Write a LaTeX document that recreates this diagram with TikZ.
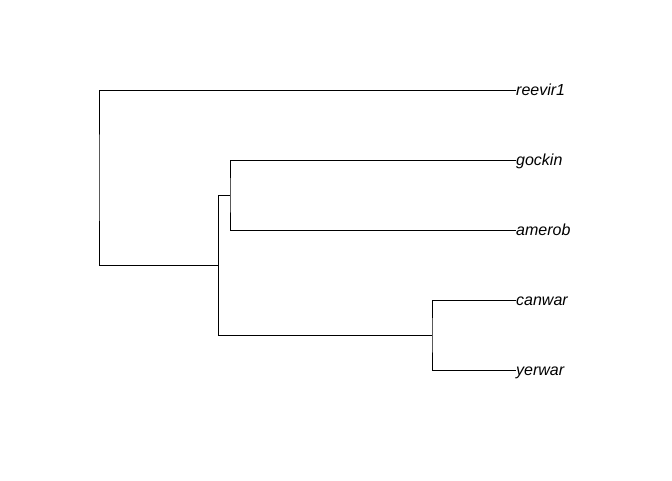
\documentclass[tikz,border=0pt]{standalone}
\usepackage{fontspec}
\setmainfont{Liberation Sans}
\begin{document}
\begin{tikzpicture}[x=1pt,y=-1pt,
  branch/.style={draw=black,line width=0.9pt},
  leaf/.style={anchor=west,inner sep=0pt,font=\fontsize{16}{18}\selectfont\itshape,text height=11.5pt,text depth=0pt}]
\useasboundingbox (0,0) rectangle (672,480);
% tips
\node[leaf] (reevir1) at (516,90) {reevir1};
\node[leaf] (gockin) at (516,160) {gockin};
\node[leaf] (amerob) at (516,230) {amerob};
\node[leaf] (canwar) at (516,300) {canwar};
\node[leaf] (yerwar) at (516,370) {yerwar};
% internal nodes
\coordinate (root) at (99,177.5);
\coordinate (n1) at (218,265);
\coordinate (n2) at (230,195);
\coordinate (n3) at (432,335);
% edges
\draw[branch] (reevir1.west) -| (root) |- (n1);
\draw[branch] (n1) |- (n2);
\draw[branch] (n1) |- (n3);
\draw[branch] (gockin.west) -| (n2) |- (amerob.west);
\draw[branch] (canwar.west) -| (n3) |- (yerwar.west);
\end{tikzpicture}
\end{document}
